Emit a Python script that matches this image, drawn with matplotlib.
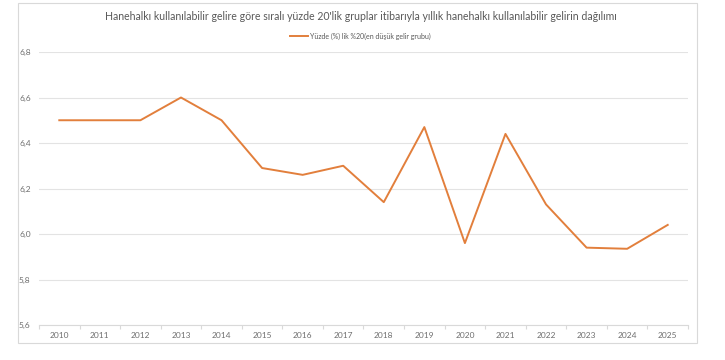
import matplotlib
matplotlib.use("Agg")

import matplotlib.pyplot as plt
import matplotlib.ticker as mticker
import numpy as np
from matplotlib.patches import Rectangle

# -- data --
years = ["2010", "2011", "2012", "2013", "2014", "2015", "2016", "2017",
         "2018", "2019", "2020", "2021", "2022", "2023", "2024", "2025"]
share = [6.5, 6.5, 6.5, 6.6, 6.5, 6.29, 6.26, 6.30,
         6.14, 6.47, 5.96, 6.44, 6.13, 5.94, 5.935, 6.04]
y_ticks = [5.6, 5.8, 6.0, 6.2, 6.4, 6.6, 6.8]

title = "Hanehalkı kullanılabilir gelire göre sıralı yüzde 20'lik gruplar itibarıyla yıllık hanehalkı kullanılabilir gelirin dağılımı"
series_label = "Yüzde (%) lik %20(en düşük gelir grubu)"

LINE = "#E27F3C"
TEXT = "#595959"
TICK = "#6E6E6E"
GRID = "#E3E3E3"

plt.rcParams["font.family"] = ["Lato", "DejaVu Sans"]

fig = plt.figure(figsize=(7.25, 3.6), dpi=100)
fig.patch.set_facecolor("white")

# outer chart border
fig.patches.append(Rectangle((18 / 725, 1 - 343 / 360), (697 - 18) / 725, (343 - 3) / 360,
                             transform=fig.transFigure, fill=False,
                             edgecolor="#D9D9D9", linewidth=0.8))

ax = fig.add_axes([39 / 725, 1 - 325 / 360, (688 - 39) / 725, (325 - 52) / 360])
x = np.arange(len(years))
ax.plot(x, share, color=LINE, linewidth=1.4, label=series_label, zorder=3)

ax.set_xlim(-0.5, len(years) - 0.5)
ax.set_ylim(5.6, 6.8)
ax.set_yticks(y_ticks)
ax.yaxis.set_major_formatter(mticker.FuncFormatter(lambda v, p: f"{v:.1f}".replace(".", ",")))
ax.set_xticks(x)
ax.set_xticklabels(years)
ax.set_xticks(np.arange(-0.5, len(years), 1), minor=True)

ax.grid(axis="y", color=GRID, linewidth=0.8)
ax.set_axisbelow(True)
for side in ["top", "right", "left"]:
    ax.spines[side].set_visible(False)
ax.spines["bottom"].set_color("#D9D9D9")
ax.spines["bottom"].set_linewidth(0.8)

ax.tick_params(axis="y", length=0, labelsize=6, labelcolor=TICK, pad=6)
ax.tick_params(axis="x", which="major", length=0, labelsize=6, labelcolor=TICK, pad=5)
ax.tick_params(axis="x", which="minor", length=3, color="#D9D9D9", width=0.8)

fig.text(361 / 725, 1 - 17 / 360, title, ha="center", va="center", fontsize=7.6, color=TEXT)
ax.legend(loc="center", bbox_to_anchor=(360 / 725, 1 - 36 / 360), bbox_transform=fig.transFigure,
          frameon=False, fontsize=5.0, labelcolor=TEXT, handlelength=2.6, handletextpad=0.3)

fig.savefig("out.png", dpi=100, facecolor="white")
plt.close(fig)
